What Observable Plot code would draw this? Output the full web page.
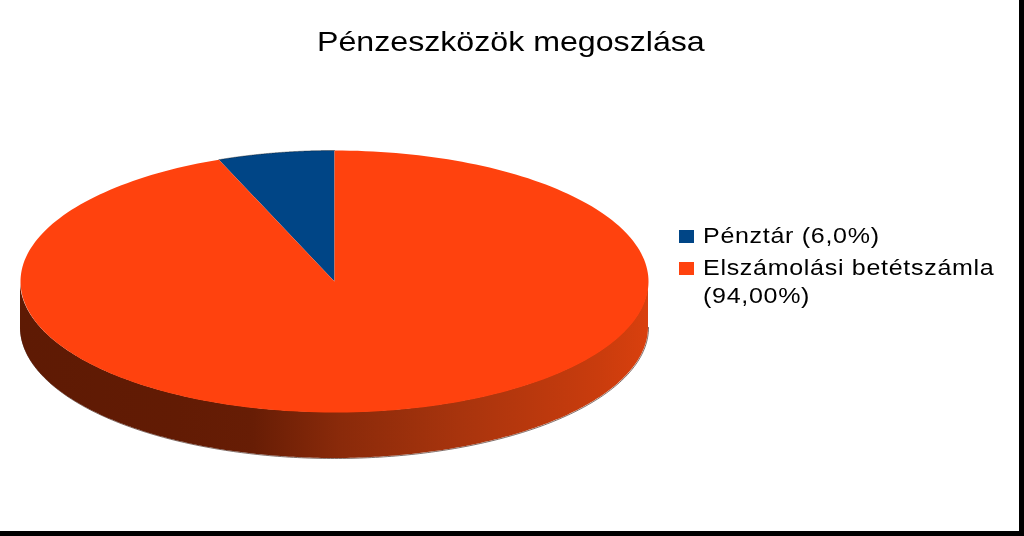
<!DOCTYPE html>
<html lang="hu"><head><meta charset="utf-8">
<script src="https://cdn.jsdelivr.net/npm/d3@7"></script>
<script src="https://cdn.jsdelivr.net/npm/@observablehq/plot@0.6"></script>
<style>
html,body{margin:0;padding:0;width:1024px;height:536px;overflow:hidden;background:#fff}
#frame{position:relative;width:1024px;height:536px;box-sizing:border-box;border-right:5px solid #000;border-bottom:5px solid #000;overflow:hidden;font-family:"Liberation Sans",Arial,sans-serif;color:#000}
#chart{position:absolute;left:0;top:0;width:1024px;height:536px;filter:blur(.35px)}
#chart svg{max-width:none;display:block}
#title{position:absolute;left:317px;top:24px;font-size:28px;line-height:36px;white-space:nowrap;transform:scaleX(1.148);transform-origin:0 0;filter:blur(.3px)}
#legend{position:absolute;left:679px;top:222px;font-size:21.5px;line-height:28px;letter-spacing:.6px}
.item{position:relative;padding-left:24px;width:310px}
.item i{position:absolute;left:0;top:8px;width:15px;height:13px;filter:blur(.3px)}
.item span{display:block;width:265px;transform:scaleX(1.164);transform-origin:0 0;filter:blur(.3px)}
.item + .item{margin-top:4px}
</style></head><body>
<div id="frame">
  <div id="chart"></div>
  <div id="title"></div>
  <div id="legend"></div>
</div>
<script>
const titleText = "Pénzeszközök megoszlása";
const categories = ["Pénztár (6,0%)", "Elszámolási betétszámla (94,00%)"];
const shares = [6, 94];
const colors = ["#004586", "#ff420e"];
const sideStops = [
  [0.00, "#5e1a04"], [0.25, "#621b04"], [0.37, "#671d05"], [0.51, "#8a2a0a"],
  [0.70, "#a8340d"], [0.92, "#c93c0d"], [1.00, "#d9400e"]
];

// Pie units: the unit circle, squashed by the y scale; the rim drops by `depth` units.
const depth = 0.351;
const arcPoints = (a0, a1, n = 240) => d3.range(n + 1).map(i => {
  const a = a0 + (a1 - a0) * i / n;
  return {x: Math.sin(a), y: Math.cos(a)};
});
let start = -2 * Math.PI * shares[0] / 100;
const slices = categories.map((name, i) => {
  const a0 = start, a1 = start + 2 * Math.PI * shares[i] / 100;
  start = a1;
  return arcPoints(a0, a1).concat([{x: 0, y: 0}]).map(p => ({...p, name}));
});
const rim = arcPoints(Math.PI / 2, 3 * Math.PI / 2).map(p => ({x: p.x, y1: p.y, y2: p.y - depth}));
const outline = arcPoints(Math.PI / 2, 3 * Math.PI / 2).map(p => ({x: p.x, y: p.y - depth}));

const gradient = () => {
  const ns = "http://www.w3.org/2000/svg";
  const defs = document.createElementNS(ns, "defs");
  const g = document.createElementNS(ns, "linearGradient");
  g.setAttribute("id", "side");
  g.setAttribute("x1", "0"); g.setAttribute("x2", "1");
  g.setAttribute("y1", "0"); g.setAttribute("y2", "0");
  for (const [o, c] of sideStops) {
    const s = document.createElementNS(ns, "stop");
    s.setAttribute("offset", o); s.setAttribute("stop-color", c);
    g.appendChild(s);
  }
  defs.appendChild(g);
  return defs;
};

const plot = Plot.plot({
  width: 1024, height: 536, margin: 0,
  style: {background: "transparent", maxWidth: "none"},
  x: {domain: [-1, 1], range: [20, 648], axis: null},
  y: {domain: [-1, 1], range: [412, 150], axis: null},
  marks: [
    gradient,
    Plot.line(outline, {x: "x", y: "y", stroke: "#2a0a00", strokeWidth: 1, strokeOpacity: 0.6}),
    Plot.areaY(rim, {x: "x", y1: "y1", y2: "y2", fill: "url(#side)"}),
    ...slices.map((pts, i) => Plot.line(pts, {x: "x", y: "y", fill: colors[i], stroke: null, curve: "linear"})),
    Plot.line(arcPoints(-2 * Math.PI * shares[0] / 100, 0), {x: "x", y: "y", stroke: "#1a1a1a", strokeWidth: 0.8, strokeOpacity: 0.5})
  ]
});
document.getElementById("chart").appendChild(plot);
document.getElementById("title").textContent = titleText;
document.getElementById("legend").append(...categories.map((name, i) => {
  const d = document.createElement("div");
  d.className = "item";
  const sw = document.createElement("i");
  sw.style.background = colors[i];
  const t = document.createElement("span");
  t.textContent = name;
  d.append(sw, t);
  return d;
}));
</script>
</body></html>
